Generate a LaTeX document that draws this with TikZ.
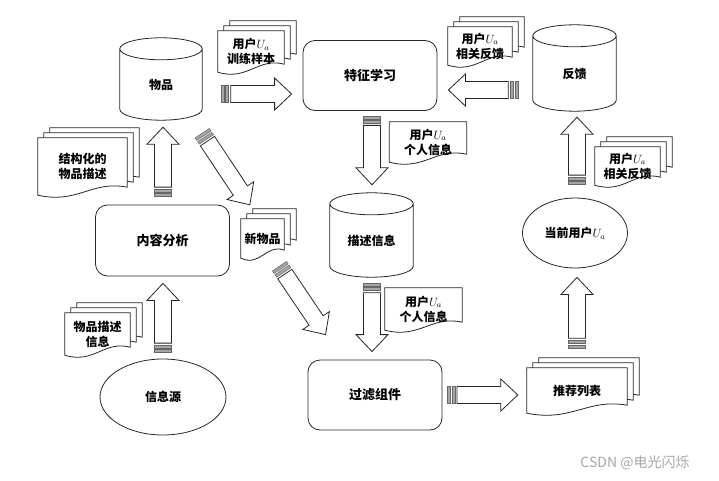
\documentclass[tikz,border=0pt]{standalone}
\usepackage{fontspec}
\setmainfont{Noto Sans CJK SC}
\usetikzlibrary{calc,shapes.geometric,backgrounds}

\tikzset{
  ink/.style={draw=black!85, line width=0.8pt},
  box/.style={ink, rounded corners=12pt, minimum width=134, minimum height=70, font=\fontsize{13}{15}\selectfont\bfseries},
  oval/.style={ink, ellipse, inner sep=0pt, font=\fontsize{12}{15}\selectfont\bfseries},
  cyl/.style={inner sep=0pt, font=\fontsize{12}{15}\selectfont\bfseries},
  doc/.style={inner sep=0pt, align=center, font=\fontsize{12}{15}\selectfont\bfseries},
  sheet/.style={ink, fill=white},
  stripe/.style={draw=black!60, fill=black!35, line width=0.5pt},
}

% cylinder round a node: cap sits on its north edge
\newcommand{\cylinder}[1]{%
  \draw[ink] let \p1=(#1.north west), \p2=(#1.south east), \n1={(\x2-\x1)/2} in
    (\x1,\y1) -- (\x1,\y2+11) arc[start angle=180, end angle=360, x radius=\n1, y radius=11pt] -- (\x2,\y1)
    (\x1+\n1,\y1) ellipse [x radius=\n1, y radius=11pt];}

% sheets with a wavy foot, back ones first
\newcommand{\docshape}[2]{%
  \begin{pgfonlayer}{background}
  \foreach \k in {#2}
    \draw[sheet] let \p1=(#1.south west), \p2=(#1.north east), \n1={6*\k}, \n2={5*\k}, \n3={\x2-\x1} in
      (\x1+\n1,\y2+\n2) -- (\x2+\n1,\y2+\n2) -- (\x2+\n1,\y1+\n2+8)
      .. controls (\x2+\n1-0.4*\n3,\y1+\n2+15) and (\x1+\n1+0.45*\n3,\y1+\n2-9) .. (\x1+\n1,\y1+\n2) -- cycle;
  \end{pgfonlayer}}

% hollow block arrow with a striped tail
\newcommand{\bigarrow}[2]{%
  \coordinate (ta) at (#1);
  \coordinate (tb) at (#2);
  \coordinate (s1) at ($(ta)!3pt!(tb)$);
  \coordinate (s2) at ($(ta)!4.5pt!(tb)$);
  \coordinate (s3) at ($(ta)!7.5pt!(tb)$);
  \coordinate (sh) at ($(ta)!9.5pt!(tb)$);
  \coordinate (hd) at ($(tb)!17pt!(ta)$);
  \draw[stripe] ($(ta)!8.5pt!90:(tb)$) -- ($(s1)!8.5pt!90:(tb)$) -- ($(s1)!8.5pt!-90:(tb)$) -- ($(ta)!8.5pt!-90:(tb)$) -- cycle;
  \draw[stripe] ($(s2)!8.5pt!90:(tb)$) -- ($(s3)!8.5pt!90:(tb)$) -- ($(s3)!8.5pt!-90:(tb)$) -- ($(s2)!8.5pt!-90:(tb)$) -- cycle;
  \draw[ink, fill=white] ($(sh)!8.5pt!90:(tb)$) -- ($(hd)!8.5pt!90:(tb)$) -- ($(hd)!16pt!90:(tb)$) -- (tb)
    -- ($(hd)!16pt!-90:(tb)$) -- ($(hd)!8.5pt!-90:(tb)$) -- ($(sh)!8.5pt!-90:(tb)$) -- cycle;}

\begin{document}
\begin{tikzpicture}[x=1pt,y=-1pt]
\useasboundingbox (0,0) rectangle (719,481);

\node (items) at (161,84.5) [cyl, minimum width=82, minimum height=71] {物品};
\node (fb) at (574.5,73.5) [cyl, minimum width=83, minimum height=75] {反馈};
\node (desc) at (371.5,240.5) [cyl, minimum width=83, minimum height=73] {描述信息};
\cylinder{items}
\cylinder{fb}
\cylinder{desc}

\node (feat) at (370,75.5) [box] {特征学习};
\node (cont) at (162.5,240.5) [box, minimum height=71] {内容分析};
\node (filt) at (375,395) [box] {过滤组件};

\node (src) at (163,397) [oval, minimum width=126, minimum height=76] {信息源};
\node (cur) at (575,233) [oval, minimum width=105, minimum height=70] {当前用户$U_a$};

\node (train) at (251,51.5) [doc, minimum width=66, minimum height=41] {用户$U_a$\\训练样本};
\node (fbtop) at (480,46) [doc, minimum width=64, minimum height=38] {用户$U_a$\\相关反馈};
\node (pers1) at (428,142) [doc, minimum width=77, minimum height=40] {用户$U_a$\\个人信息};
\node (pers2) at (423.5,309) [doc, minimum width=77, minimum height=42] {用户$U_a$\\个人信息};
\node (struct) at (82.5,166.5) [doc, minimum width=89, minimum height=57] {结构化的\\物品描述};
\node (newi) at (262.5,238.5) [doc, minimum width=43, minimum height=39] {新物品};
\node (srcdoc) at (97.5,334) [doc, minimum width=65, minimum height=42] {物品描述\\信息};
\node (recl) at (577,390.5) [doc, minimum width=100, minimum height=45] {推荐列表};
\node (fbright) at (627.5,166) [doc, minimum width=65, minimum height=38] {用户$U_a$\\相关反馈};
\docshape{train}{2,1,0}
\docshape{fbtop}{2,1,0}
\docshape{pers1}{0}
\docshape{pers2}{0}
\docshape{struct}{2,1,0}
\docshape{newi}{2,1,0}
\docshape{srcdoc}{2,1,0}
\docshape{recl}{2,1,0}
\docshape{fbright}{2,1,0}

\bigarrow{$(items.east)+(19,9.5)$}{$(feat.west)+(-11,18.5)$}
\bigarrow{$(fb.west)+(-15,16.5)$}{$(feat.east)+(11,14.5)$}
\bigarrow{$(feat.south)+(2,5)$}{$(desc.north)+(0.5,-19)$}
\bigarrow{$(desc.south)+(0.5,6)$}{$(filt.north)+(-3,-8)$}
\bigarrow{$(filt.east)+(5,0)$}{$(recl.west)+(-9,4.5)$}
\bigarrow{$(recl.north)+(0,-20)$}{$(cur.south)+(2,9)$}
\bigarrow{$(cur.north)+(2,-13)$}{$(fb.south)+(2.5,6)$}
\bigarrow{$(cont.north)+(0.5,-8)$}{$(items.south)+(2,7)$}
\bigarrow{$(src.north)+(0,-6)$}{$(cont.south)+(0.5,7)$}
\bigarrow{$(items.south east)+(0,13)$}{$(newi.north west)+(9,-14)$}
\bigarrow{$(newi.south)+(17,8)$}{$(filt.north west)+(18,-25)$}

\node (mark) at (635,463) [text=black!35, font=\fontsize{14}{14}\selectfont] {CSDN @电光闪烁};
\end{tikzpicture}
\end{document}
